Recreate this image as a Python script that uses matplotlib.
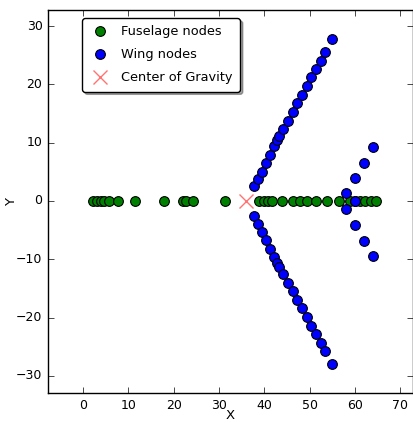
import matplotlib
matplotlib.use('Agg')
import matplotlib.pyplot as plt

# Fuselage nodes (all on the centre line)
fuse_x = [2.3, 3.0, 3.9, 4.6, 5.8, 7.8, 11.5, 17.9, 22.0, 22.7, 24.2, 31.3,
          38.8, 39.9, 40.7, 41.6, 43.9, 46.2, 47.8, 49.4, 51.3, 53.8, 56.4,
          58.9, 60.0, 61.1, 62.2, 63.4, 64.6]
fuse_y = [0.0] * len(fuse_x)

# Wing nodes: main wing (right / left half) and tail
wing_x = [37.8, 38.6, 39.4, 40.3, 41.3, 42.2, 42.8, 43.3, 44.2, 45.2, 46.2,
          47.2, 48.3, 49.3, 50.3, 51.4, 52.4, 53.4, 54.9,
          37.8, 38.7, 39.5, 40.4, 41.3, 42.2, 42.8, 43.3, 44.2, 45.2, 46.2,
          47.2, 48.3, 49.3, 50.3, 51.4, 52.4, 53.4, 55.0,
          58.0, 59.9, 61.9, 63.9, 60.0, 58.0, 59.9, 61.9, 63.9]
wing_y = [2.5, 3.7, 5.0, 6.6, 7.9, 9.4, 10.4, 11.2, 12.4, 13.8, 15.3,
          16.8, 18.2, 19.7, 21.2, 22.6, 24.1, 25.5, 27.8,
          -2.6, -3.9, -5.3, -6.7, -8.2, -9.6, -10.6, -11.4, -12.6, -14.1, -15.5,
          -17.0, -18.4, -19.9, -21.4, -22.9, -24.3, -25.8, -28.0,
          1.3, 3.9, 6.6, 9.3, 0.0, -1.4, -4.2, -6.8, -9.4]

# Center of gravity
cg_x = [36.0]
cg_y = [0.0]

plt.style.use('classic')
plt.rcParams['figure.facecolor'] = 'white'
plt.rcParams['savefig.facecolor'] = 'white'
plt.rcParams['font.family'] = ['DejaVu Sans']

fig = plt.figure(figsize=(4.14, 4.23), dpi=100)
ax = fig.add_axes([0.116, 0.071, 0.882, 0.905])

ax.plot(fuse_x, fuse_y, 'o', color='green', markersize=7, markeredgewidth=0.8,
        markeredgecolor='black', label='Fuselage nodes')
ax.plot(wing_x, wing_y, 'o', color='blue', markersize=7, markeredgewidth=0.8,
        markeredgecolor='black', label='Wing nodes')
ax.plot(cg_x, cg_y, 'x', color='red', alpha=0.55, markersize=10,
        markeredgewidth=1.0, label='Center of Gravity')

ax.set_xlim(-7.7, 72.8)
ax.set_ylim(-32.95, 32.75)
ax.set_xticks(range(0, 80, 10))
ax.set_yticks(range(-30, 40, 10))
ax.tick_params(labelsize=9)
ax.set_xlabel('X', fontsize=9.5)
ax.set_ylabel('Y', fontsize=9.5)
ax.xaxis.set_label_coords(0.5, -0.043)
ax.yaxis.set_label_coords(-0.082, 0.5)

ax.legend(loc='upper left', bbox_to_anchor=(0.093, 0.979), borderaxespad=0,
          numpoints=1, fancybox=True, shadow=True, fontsize=9.3,
          handletextpad=0.8, borderpad=0.55, labelspacing=0.78,
          handlelength=1.7)

fig.savefig('out.png', dpi=100)
